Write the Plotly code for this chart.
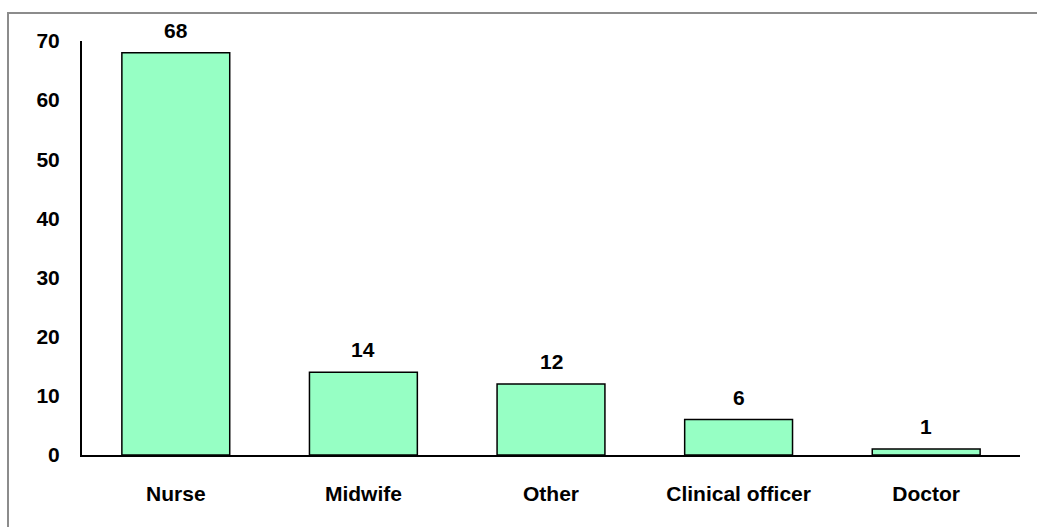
import plotly.graph_objects as go

# Staff cadre counts
categories = ["Nurse", "Midwife", "Other", "Clinical officer", "Doctor"]
counts = [68, 14, 12, 6, 1]
y_ticks = [0, 10, 20, 30, 40, 50, 60, 70]

font_family = "Liberation Sans, Arial, sans-serif"

fig = go.Figure()
fig.add_trace(go.Bar(
    x=categories,
    y=counts,
    width=0.575,
    marker=dict(color="#96FFC4", line=dict(color="#000000", width=1.5)),
    cliponaxis=False,
    showlegend=False,
))

# Value labels above each bar
for cat, val in zip(categories, counts):
    fig.add_annotation(
        x=cat, y=val, text=f"<b>{val}</b>", showarrow=False,
        yanchor="bottom", yshift=9,
        font=dict(family=font_family, size=21, color="#000000"),
    )

fig.update_layout(
    width=1037, height=527,
    margin=dict(l=82, r=17, t=41, b=72),
    paper_bgcolor="white", plot_bgcolor="white",
    font=dict(family=font_family, size=21, color="#000000"),
    bargap=0.425,
    xaxis=dict(
        showline=True, linecolor="#000000", linewidth=2,
        showgrid=False, ticks="", ticklabelstandoff=19,
        tickfont=dict(family=font_family, size=21, color="#000000", weight="bold"),
    ),
    yaxis=dict(
        range=[0, 70], tickvals=y_ticks,
        showline=True, linecolor="#000000", linewidth=2,
        showgrid=False, zeroline=False, ticks="", ticklabelstandoff=16,
        tickfont=dict(family=font_family, size=21, color="#000000", weight="bold"),
    ),
    shapes=[dict(
        type="rect", xref="paper", yref="paper",
        x0=(8 - 82) / 938, x1=(1045 - 82) / 938,
        y0=-(540 - 455) / 414, y1=(455 - 13) / 414,
        line=dict(color="#8c8c8c", width=2), fillcolor="rgba(0,0,0,0)",
        layer="below",
    )],
)

fig.write_html("out.html")
